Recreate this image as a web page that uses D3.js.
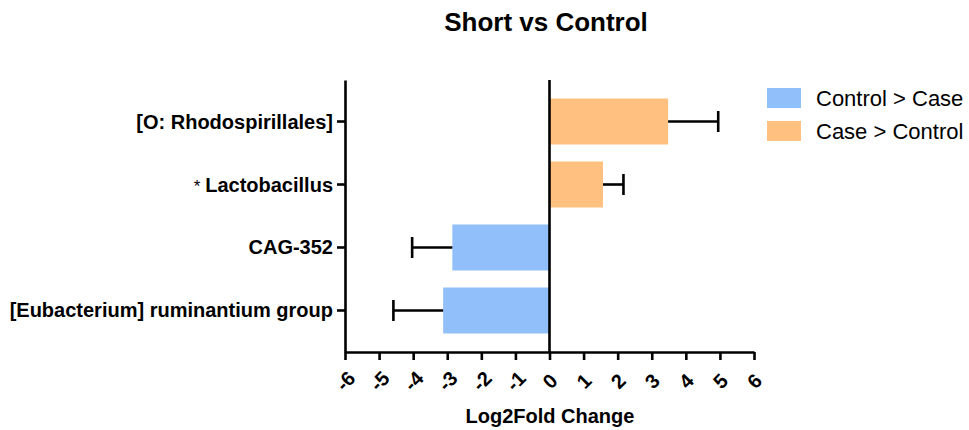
<!DOCTYPE html>
<html>
<head>
<meta charset="utf-8">
<script src="https://cdn.jsdelivr.net/npm/d3@7"></script>
<style>
  html, body { margin: 0; padding: 0; background: #fff; }
  svg { display: block; font-family: "Liberation Sans", Arial, sans-serif; }
</style>
</head>
<body>
<svg id="chart" width="969" height="430"></svg>
<script>
// Taxa, top to bottom
const categories = ["[O: Rhodospirillales]", "Lactobacillus", "CAG-352", "[Eubacterium] ruminantium group"];
const significant = [false, true, false, false];
// Log2 fold change and error (SD) per taxon
const log2fc = [3.48, 1.57, -2.85, -3.12];
const errors = [1.47, 0.6, 1.18, 1.46];
const xTicks = [-6, -5, -4, -3, -2, -1, 0, 1, 2, 3, 4, 5, 6];
const legendLabels = ["Control > Case", "Case > Control"];
const colors = { neg: "#91bffa", pos: "#ffc080" };

const svg = d3.select("#chart");
const plotL = 345, plotR = 754, plotT = 80, plotB = 352;

const x = d3.scaleLinear().domain([-6, 6]).range([plotL, plotR]);
const y = d3.scaleBand().domain(categories).range([plotT, plotB])
  .paddingInner(0.27).paddingOuter(0.294);

// Title
svg.append("text").attr("x", 546).attr("y", 31).attr("text-anchor", "middle")
  .attr("font-size", 26).attr("font-weight", "bold").text("Short vs Control");

// Bars
svg.append("g").selectAll("rect").data(categories).join("rect")
  .attr("x", (d, i) => Math.min(x(0), x(log2fc[i])))
  .attr("y", d => y(d))
  .attr("width", (d, i) => Math.abs(x(log2fc[i]) - x(0)))
  .attr("height", y.bandwidth())
  .attr("fill", (d, i) => log2fc[i] < 0 ? colors.neg : colors.pos);

// Error bars (one-sided, away from zero)
const eb = svg.append("g").attr("stroke", "#000").attr("stroke-width", 2.6);
categories.forEach((c, i) => {
  const v = log2fc[i], e = v < 0 ? v - errors[i] : v + errors[i];
  const cy = y(c) + y.bandwidth() / 2;
  eb.append("line").attr("x1", x(v)).attr("x2", x(e)).attr("y1", cy).attr("y2", cy);
  eb.append("line").attr("x1", x(e)).attr("x2", x(e)).attr("y1", cy - 10.5).attr("y2", cy + 10.5);
});

// Zero line
svg.append("line").attr("x1", x(0)).attr("x2", x(0)).attr("y1", plotT).attr("y2", plotB)
  .attr("stroke", "#000").attr("stroke-width", 2.6);

// X axis
const xAxis = svg.append("g").attr("transform", `translate(0,${plotB})`)
  .call(d3.axisBottom(x).tickValues(xTicks).tickSize(8).tickSizeOuter(0).tickFormat(d3.format("d")));
xAxis.select(".domain").attr("stroke-width", 2.6);
xAxis.selectAll(".tick line").attr("stroke-width", 2.6);
xAxis.selectAll(".tick text").remove();
xAxis.selectAll(".tick").append("text")
  .attr("fill", "#000")
  .attr("font-size", 20).attr("font-weight", "bold")
  .attr("text-anchor", "middle").attr("dominant-baseline", "central")
  .attr("transform", "translate(0,29) rotate(-45)")
  .text(d => d3.format("d")(d).replace("−", "-"));

// Y axis
const yAxis = svg.append("g").attr("transform", `translate(${plotL},0)`)
  .call(d3.axisLeft(y).tickSize(8).tickSizeOuter(0));
yAxis.select(".domain").attr("stroke-width", 2.6);
yAxis.selectAll(".tick line").attr("stroke-width", 2.6);
yAxis.selectAll(".tick text").remove();
const yl = yAxis.selectAll(".tick").append("text")
  .attr("fill", "#000").attr("x", -12).attr("dy", "0.35em")
  .attr("text-anchor", "end").attr("font-size", 20).attr("font-weight", "bold");
yl.each(function (d, i) {
  const t = d3.select(this);
  if (significant[i]) {
    t.append("tspan").attr("font-weight", "normal").attr("font-size", 17).text("* ");
  }
  t.append("tspan").text(d);
});

// X label
svg.append("text").attr("x", 550).attr("y", 423).attr("text-anchor", "middle")
  .attr("font-size", 20).attr("font-weight", "bold").text("Log2Fold Change");

// Legend
const lg = svg.append("g");
legendLabels.forEach((l, i) => {
  const gy = 88 + i * 33;
  lg.append("rect").attr("x", 767).attr("y", gy).attr("width", 34).attr("height", 20)
    .attr("fill", i === 0 ? colors.neg : colors.pos);
  lg.append("text").attr("x", 816).attr("y", gy + 10).attr("dy", "0.35em")
    .attr("font-size", 22).text(l);
});
</script>
</body>
</html>
